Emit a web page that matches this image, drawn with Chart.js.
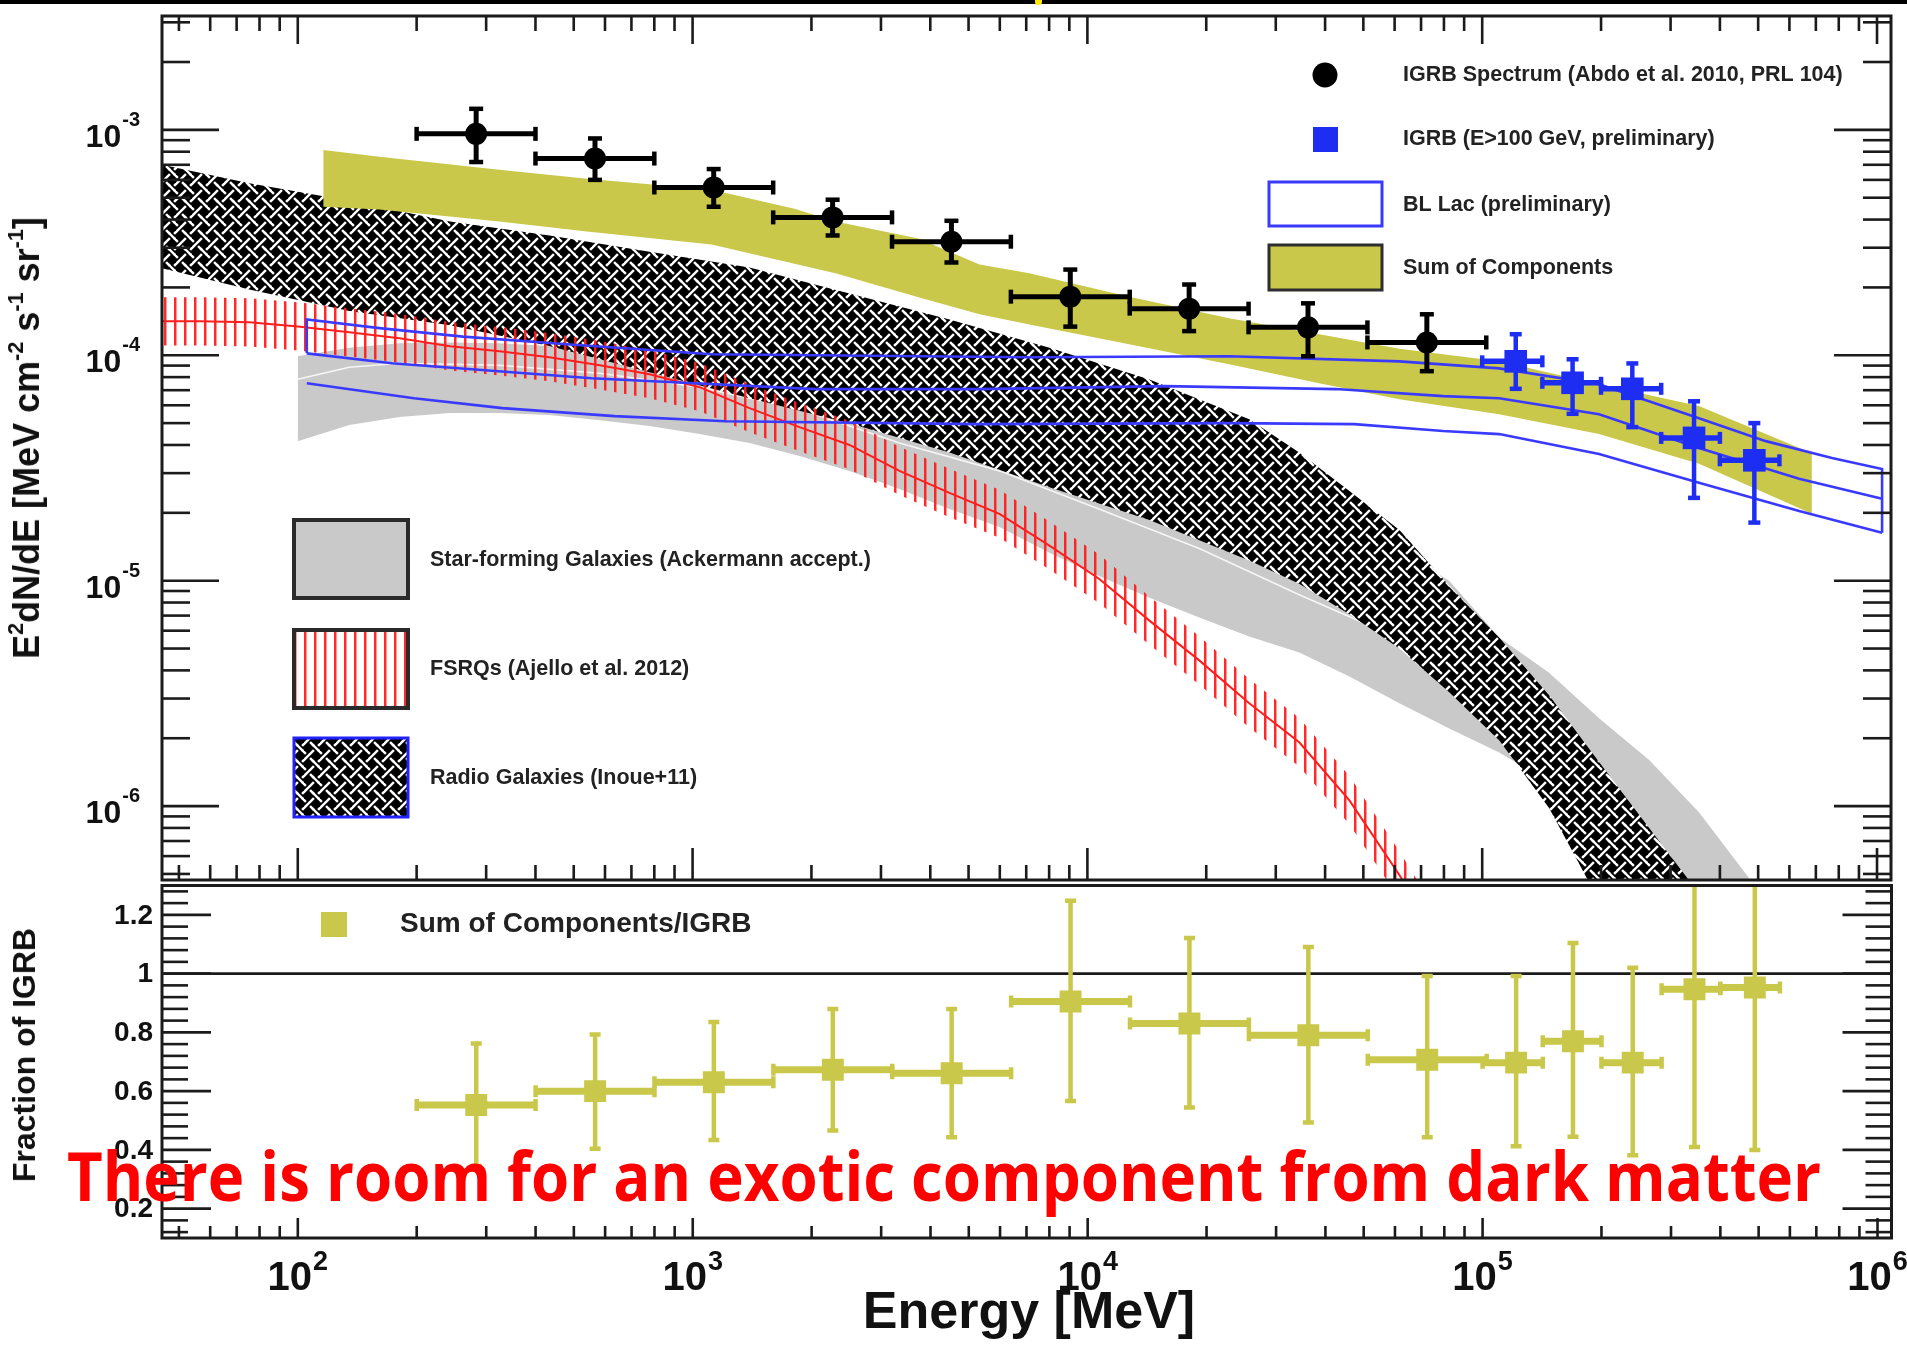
<!DOCTYPE html>
<html>
<head>
<meta charset="utf-8">
<title>IGRB spectrum and source-class contributions</title>
<script src="https://cdn.jsdelivr.net/npm/chart.js@4.4.1/dist/chart.umd.min.js"></script>
<style>
  html, body { margin:0; padding:0; background:#fff; }
  body { position:relative; width:1907px; height:1348px; overflow:hidden; font-family:"Liberation Sans", Arial, Helvetica, sans-serif; }
  canvas { position:absolute; left:0; }
  #spectrum { top:0; }
  #fraction { top:870px; }
  .axis-title { position:absolute; font-weight:bold; color:#111; white-space:nowrap; line-height:1; }
  .axis-title sup { font-size:0.6em; vertical-align:0.75em; line-height:0; }
  #ytitle { left:27px; top:438px; font-size:36px; transform:translate(-50%,-50%) rotate(-90deg); }
  #ftitle { left:24px; top:1055px; font-size:32px; transform:translate(-50%,-50%) rotate(-90deg); }
  #xtitle { left:1029px; top:1284px; font-size:52px; transform:translateX(-50%); }
  #note { position:absolute; left:67px; top:1141px; font-family:"Open Sans", "Noto Sans", sans-serif; font-weight:bold; font-size:68px; line-height:1; color:#ff0000; white-space:nowrap; transform-origin:0 0; }
  #topbar { position:absolute; left:0; top:0; width:1907px; height:4px; background:#000; }
  #marker { position:absolute; left:1035px; top:0; width:7px; height:5px; background:#ffe800; border-radius:0 0 3px 3px; }
</style>
</head>
<body>
<div id="topbar"></div>
<div id="marker"></div>
<canvas id="spectrum" width="1907" height="900"></canvas>
<canvas id="fraction" width="1907" height="478"></canvas>
<div id="ytitle" class="axis-title">E<sup>2</sup>dN/dE [MeV cm<sup>-2</sup> s<sup>-1</sup> sr<sup>-1</sup>]</div>
<div id="ftitle" class="axis-title">Fraction of IGRB</div>
<div id="xtitle" class="axis-title">Energy [MeV]</div>
<div id="note">There is room for an exotic component from dark matter</div>

<script>
// ---------- axis ranges ----------
const energyRange = [45.3, 1.085e6];          // MeV
const fluxRange = [4.7e-7, 3.2e-3];           // MeV cm^-2 s^-1 sr^-1
const fractionRange = [0.1, 1.3];

// ---------- IGRB spectrum (Abdo et al. 2010) ----------
const igrbEdges = [200, 400, 800, 1600, 3200, 6400, 12800, 25600, 51200, 102400];
const igrbE   = [283, 566, 1131, 2263, 4525, 9051, 18102, 36204, 72408];
const igrbF   = [9.6e-4, 7.46e-4, 5.55e-4, 4.09e-4, 3.19e-4, 1.82e-4, 1.61e-4, 1.33e-4, 1.14e-4];
const igrbFLo = [7.2e-4, 6.0e-4, 4.56e-4, 3.4e-4, 2.58e-4, 1.34e-4, 1.28e-4, 9.9e-5, 8.5e-5];
const igrbFHi = [1.24e-3, 9.16e-4, 6.7e-4, 4.9e-4, 3.95e-4, 2.4e-4, 2.06e-4, 1.7e-4, 1.52e-4];

// ---------- IGRB above 100 GeV (preliminary) ----------
const hiEdges = [100000, 142000, 200000, 284000, 400000, 566000];
const hiE   = [121600, 169400, 240000, 344000, 489000];
const hiF   = [9.4e-5, 7.55e-5, 7.1e-5, 4.3e-5, 3.42e-5];
const hiFLo = [7.1e-5, 5.5e-5, 4.8e-5, 2.33e-5, 1.81e-5];
const hiFHi = [1.24e-4, 9.6e-5, 9.2e-5, 6.25e-5, 5.0e-5];

// ---------- Star-forming galaxies band ----------
const sfE  = [100, 135, 181, 243, 324, 434, 582, 778, 1042, 1394, 1866, 2497, 3342, 4474, 5988, 8015, 10700, 14360, 19200, 25700, 34400, 46100, 61700, 82500, 110400, 147700, 197700, 264800, 354000, 474000];
const sfHi = [9.9e-5, 1.08e-4, 1.13e-4, 1.14e-4, 1.13e-4, 1.10e-4, 1.05e-4, 1.0e-4, 9.4e-5, 8.67e-5, 7.91e-5, 7.08e-5, 6.26e-5, 5.54e-5, 4.9e-5, 4.34e-5, 3.76e-5, 3.3e-5, 2.83e-5, 2.43e-5, 2.04e-5, 1.7e-5, 1.36e-5, 1.0e-5, 5.6e-6, 3.9e-6, 2.45e-6, 1.6e-6, 9.4e-7, 4.8e-7];
const sfLo = [4.16e-5, 4.9e-5, 5.32e-5, 5.54e-5, 5.54e-5, 5.43e-5, 5.15e-5, 4.85e-5, 4.47e-5, 4.08e-5, 3.57e-5, 3.07e-5, 2.55e-5, 2.08e-5, 1.73e-5, 1.33e-5, 1.05e-5, 8.4e-6, 6.86e-6, 5.65e-6, 4.8e-6, 3.76e-6, 2.86e-6, 2.21e-6, 1.73e-6, 1.28e-6, 7.8e-7, 3.84e-7, 2.08e-7, 1.39e-7];
const sfMidE = [100, 135, 181, 324, 582, 1042, 1866, 3342, 5988, 10700, 19200, 34400, 61700, 82500];
const sfMid  = [7.83e-5, 8.85e-5, 9.22e-5, 9.03e-5, 8.32e-5, 7.22e-5, 5.77e-5, 4.08e-5, 3.07e-5, 2.08e-5, 1.39e-5, 8.67e-6, 5.54e-6, 4.34e-6];

// ---------- Radio galaxies band (Inoue+11) ----------
const rgE  = [45.3, 75.4, 135, 243, 434, 778, 1394, 2497, 4474, 8015, 14360, 25700, 34400, 46100, 61700, 82500, 110400, 147700, 197700, 264800, 354000];
const rgHi = [7.0e-4, 5.8e-4, 4.85e-4, 3.92e-4, 3.4e-4, 2.88e-4, 2.45e-4, 1.88e-4, 1.44e-4, 1.08e-4, 7.8e-5, 5.2e-5, 3.7e-5, 2.5e-5, 1.68e-5, 9.5e-6, 5.6e-6, 3.1e-6, 1.57e-6, 8.0e-7, 4.1e-7];
const rgLo = [2.43e-4, 1.96e-4, 1.57e-4, 1.36e-4, 1.10e-4, 8.4e-5, 6.45e-5, 5.0e-5, 3.7e-5, 2.6e-5, 1.86e-5, 1.23e-5, 9.7e-6, 7.1e-6, 5.0e-6, 3.2e-6, 1.96e-6, 9.8e-7, 3.8e-7, 1.5e-7, 6e-8];

// ---------- FSRQs band (Ajello et al. 2012) ----------
const fsrqE   = [45.3, 56.5, 75.4, 100, 135, 181, 243, 324, 434, 582, 778, 1042, 1394, 1866, 2497, 3342, 4474, 5988, 8015, 10700, 14360, 19200, 25700, 34400, 46100, 61700, 68500, 82500];
const fsrqMid = [1.414e-4, 1.414e-4, 1.40e-4, 1.343e-4, 1.264e-4, 1.19e-4, 1.096e-4, 1.042e-4, 9.8e-5, 9.03e-5, 8.24e-5, 7.22e-5, 5.83e-5, 4.80e-5, 4.0e-5, 3.07e-5, 2.45e-5, 1.98e-5, 1.43e-5, 1.02e-5, 6.65e-6, 4.43e-6, 2.86e-6, 1.92e-6, 1.06e-6, 4.95e-7, 3.65e-7, 2.3e-7];
const fsrqHi  = [1.81e-4, 1.81e-4, 1.79e-4, 1.72e-4, 1.618e-4, 1.523e-4, 1.403e-4, 1.334e-4, 1.254e-4, 1.156e-4, 1.055e-4, 9.24e-5, 7.46e-5, 6.14e-5, 5.12e-5, 3.93e-5, 3.14e-5, 2.53e-5, 1.83e-5, 1.31e-5, 8.5e-6, 5.67e-6, 3.66e-6, 2.46e-6, 1.36e-6, 6.3e-7, 4.67e-7, 2.94e-7];
const fsrqLo  = [1.105e-4, 1.105e-4, 1.094e-4, 1.049e-4, 9.88e-5, 9.3e-5, 8.56e-5, 8.14e-5, 7.66e-5, 7.05e-5, 6.44e-5, 5.64e-5, 4.55e-5, 3.75e-5, 3.125e-5, 2.4e-5, 1.91e-5, 1.55e-5, 1.12e-5, 7.97e-6, 5.2e-6, 3.46e-6, 2.23e-6, 1.5e-6, 8.3e-7, 3.87e-7, 2.85e-7, 1.8e-7];

// ---------- Sum of components band ----------
const sumE  = [116, 161, 324, 540, 1117, 1811, 2301, 3733, 5330, 7130, 12760, 22860, 38640, 61660, 110400, 197700, 354000, 684000];
const sumHi = [8.15e-4, 7.6e-4, 6.65e-4, 6.07e-4, 5.43e-4, 4.47e-4, 3.92e-4, 3.3e-4, 2.53e-4, 2.31e-4, 1.82e-4, 1.46e-4, 1.24e-4, 1.07e-4, 9.4e-5, 7.44e-5, 5.95e-5, 3.68e-5];
const sumLo = [4.56e-4, 4.43e-4, 3.92e-4, 3.54e-4, 3.1e-4, 2.55e-4, 2.31e-4, 1.81e-4, 1.52e-4, 1.37e-4, 1.12e-4, 9.12e-5, 7.52e-5, 6.38e-5, 5.48e-5, 4.47e-5, 3.3e-5, 1.98e-5];

// ---------- BL Lac band (preliminary): upper, central and lower curves ----------
const blUpE  = [105.4, 161, 262, 480, 1117, 7130, 22860, 61660, 110400, 197700, 354000, 523000, 769000, 1.03e6];
const blUp   = [1.44e-4, 1.32e-4, 1.21e-4, 1.12e-4, 1.01e-4, 9.8e-5, 9.9e-5, 9.4e-5, 8.75e-5, 7.44e-5, 5.26e-5, 4.16e-5, 3.5e-5, 3.13e-5];
const blMidE = [105.4, 173, 555, 2046, 5330, 15740, 42660, 79600, 110400, 197700, 354000, 635000, 1.03e6];
const blMid  = [1.02e-4, 9.22e-5, 7.91e-5, 7.08e-5, 7.08e-5, 7.3e-5, 7.08e-5, 6.59e-5, 6.45e-5, 5.48e-5, 3.88e-5, 2.83e-5, 2.31e-5];
const blLowE = [105.4, 197, 330, 635, 1212, 5330, 22860, 47400, 79600, 110400, 197700, 354000, 635000, 1.03e6];
const blLow  = [7.52e-5, 6.45e-5, 5.83e-5, 5.37e-5, 5.1e-5, 4.95e-5, 5.0e-5, 4.95e-5, 4.61e-5, 4.47e-5, 3.65e-5, 2.72e-5, 2.04e-5, 1.63e-5];

// ---------- Sum of components / IGRB ----------
const ratioE   = igrbE.concat(hiE);
const ratioXLo = igrbEdges.slice(0, -1).concat(hiEdges.slice(0, -1));
const ratioXHi = igrbEdges.slice(1).concat(hiEdges.slice(1));
const ratioVal = [0.553, 0.60, 0.63, 0.673, 0.661, 0.905, 0.830, 0.790, 0.707, 0.697, 0.770, 0.697, 0.947, 0.953];
const ratioLo  = [0.345, 0.404, 0.434, 0.466, 0.443, 0.566, 0.544, 0.493, 0.443, 0.412, 0.445, 0.382, 0.41, 0.40];
const ratioHi  = [0.762, 0.793, 0.835, 0.88, 0.88, 1.248, 1.121, 1.091, 0.992, 0.992, 1.104, 1.02, 1.6, 1.6];

// ---------- legend text ----------
const legendTopRight = ['IGRB Spectrum (Abdo et al. 2010, PRL 104)', 'IGRB (E>100 GeV, preliminary)', 'BL Lac (preliminary)', 'Sum of Components'];
const legendLowerLeft = ['Star-forming Galaxies (Ackermann accept.)', 'FSRQs (Ajello et al. 2012)', 'Radio Galaxies (Inoue+11)'];
const legendRatio = 'Sum of Components/IGRB';

// ---------- style ----------
const GRAY = '#c9c9c9';
const OLIVE = '#c9c84a';
const RED = '#ff1e1e';
const BLUE_LINE = '#3a3aff';
const BLUE_PT = '#1d2ef2';
const INK = '#1b1b1b';
const FONT = '"Liberation Sans", Arial, Helvetica, sans-serif';

const specCanvas = document.getElementById('spectrum');
const specCtx = specCanvas.getContext('2d');
const fracCanvas = document.getElementById('fraction');
const fracCtx = fracCanvas.getContext('2d');

// basket-weave fill: white strands over black, alternately crossing over and under
function makeWeave(ctx) {
  const s = 16, c = document.createElement('canvas');
  c.width = s; c.height = s;
  const t = c.getContext('2d');
  const line = (x0, y0, x1, y1, w, col) => { t.strokeStyle = col; t.lineWidth = w; t.beginPath(); t.moveTo(x0, y0); t.lineTo(x1, y1); t.stroke(); };
  t.fillStyle = '#000'; t.fillRect(0, 0, s, s);
  for (const k of [-s, 0, s]) line(k - 2, -2, k + s + 2, s + 2, 2.4, '#fff');          // "\" strands
  line(7, 1, 1, 7, 6, '#000');                                                         // gap under the "/" strand
  for (const c0 of [8, 24]) line(c0 + 2, -2, c0 - s - 2, s + 2, 2.4, '#fff');          // "/" strands
  line(10, 10, 14, 14, 6, '#000');                                                     // gap under the "\" strand
  line(8.5, 8.5, 15.5, 15.5, 2.4, '#fff');
  return ctx.createPattern(c, 'repeat');
}
function makeStripes(ctx) {
  const c = document.createElement('canvas');
  c.width = 10; c.height = 4;
  const t = c.getContext('2d');
  t.fillStyle = 'rgba(255,30,30,0.95)'; t.fillRect(4, 0, 2, 4);
  t.fillStyle = 'rgba(255,30,30,0.45)'; t.fillRect(6, 0, 1, 4);
  return ctx.createPattern(c, 'repeat');
}
const WEAVE = makeWeave(specCtx);
const STRIPES = makeStripes(specCtx);

const xy = (xs, ys) => xs.map((x, i) => ({ x, y: ys[i] }));
function curve(xs, ys, more) {
  return Object.assign({ data: xy(xs, ys), borderWidth: 0, borderColor: 'rgba(0,0,0,0)', pointRadius: 0, fill: false, tension: 0 }, more);
}
function seg(ctx, x0, y0, x1, y1) { ctx.beginPath(); ctx.moveTo(x0, y0); ctx.lineTo(x1, y1); ctx.stroke(); }
function logTicks(min, max) {
  const out = [];
  for (let e = Math.floor(Math.log10(min)); e <= Math.ceil(Math.log10(max)); e++) {
    for (let m = 1; m <= 9; m++) {
      const v = m * Math.pow(10, e);
      if (v >= min * 0.9999 && v <= max * 1.0001) out.push({ v, major: m === 1, exp: e });
    }
  }
  return out;
}
function drawPower(ctx, base, exp, x, baseline, align, bSize, eSize, rise) {
  ctx.font = `bold ${bSize}px ${FONT}`;
  const bw = ctx.measureText(base).width;
  ctx.font = `bold ${eSize}px ${FONT}`;
  const ew = ctx.measureText(exp).width;
  const total = bw + ew + 1;
  const left = align === 'right' ? x - total : x - total / 2;
  ctx.textAlign = 'left'; ctx.textBaseline = 'alphabetic';
  ctx.font = `bold ${bSize}px ${FONT}`; ctx.fillText(base, left, baseline);
  ctx.font = `bold ${eSize}px ${FONT}`; ctx.fillText(exp, left + bw + 1, baseline - rise);
}

// Error bars drawn just before each point dataset
const errorBars = {
  id: 'errorBars',
  beforeDatasetDraw(chart, args) {
    const ds = chart.data.datasets[args.index];
    const eb = ds.errorBars;
    if (!eb) return;
    const { ctx, chartArea: a, scales: { x, y } } = chart;
    ctx.save();
    ctx.beginPath(); ctx.rect(a.left, a.top, a.right - a.left, a.bottom - a.top); ctx.clip();
    ctx.strokeStyle = eb.color; ctx.lineCap = 'butt';
    ds.data.forEach((p, i) => {
      const px = x.getPixelForValue(p.x), py = y.getPixelForValue(p.y);
      const x0 = x.getPixelForValue(eb.xLo[i]), x1 = x.getPixelForValue(eb.xHi[i]);
      const y0 = y.getPixelForValue(eb.yLo[i]), y1 = y.getPixelForValue(eb.yHi[i]);
      ctx.lineWidth = eb.hWidth; seg(ctx, x0, py, x1, py);
      ctx.lineWidth = eb.vWidth; seg(ctx, px, y0, px, y1);
      ctx.lineWidth = eb.capWidth;
      seg(ctx, x0, py - eb.hCap, x0, py + eb.hCap);
      seg(ctx, x1, py - eb.hCap, x1, py + eb.hCap);
      seg(ctx, px - eb.vCap, y0, px + eb.vCap, y0);
      seg(ctx, px - eb.vCap, y1, px + eb.vCap, y1);
    });
    ctx.restore();
  }
};

// ---------- spectrum panel ----------
const n = blUpE.length - 1;
const blOutline = [{ x: blUpE[0], y: blMid[0] }].concat(xy(blUpE, blUp), [{ x: blUpE[n], y: blLow[blLow.length - 1] }]);

const specSets = [
  curve(sfE, sfHi, { order: 40 }),
  curve(sfE, sfLo, { order: 39, fill: '-1', backgroundColor: GRAY }),
  curve(sfMidE, sfMid, { order: 38, borderWidth: 1.6, borderColor: '#f6f6f6' }),
  curve(rgE, rgHi, { order: 37 }),
  curve(rgE, rgLo, { order: 36, fill: '-1', backgroundColor: WEAVE }),
  curve(fsrqE, fsrqHi, { order: 35 }),
  curve(fsrqE, fsrqLo, { order: 34, fill: '-1', backgroundColor: STRIPES }),
  curve(fsrqE, fsrqMid, { order: 33, borderWidth: 2, borderColor: RED }),
  curve(sumE, sumHi, { order: 32 }),
  curve(sumE, sumLo, { order: 31, fill: '-1', backgroundColor: OLIVE }),
  { data: blOutline, order: 30, borderWidth: 2.6, borderColor: BLUE_LINE, pointRadius: 0, fill: false, tension: 0 },
  curve(blMidE, blMid, { order: 29, borderWidth: 2.6, borderColor: BLUE_LINE }),
  curve(blLowE, blLow, { order: 28, borderWidth: 2.6, borderColor: BLUE_LINE }),
  {
    data: xy(igrbE, igrbF), order: 20, showLine: false, pointRadius: 11, pointStyle: 'circle',
    pointBackgroundColor: '#000', pointBorderWidth: 0,
    errorBars: { xLo: igrbEdges.slice(0, -1), xHi: igrbEdges.slice(1), yLo: igrbFLo, yHi: igrbFHi, color: '#000', hWidth: 5, vWidth: 5, capWidth: 4.5, hCap: 7, vCap: 7 }
  },
  {
    data: xy(hiE, hiF), order: 19, showLine: false, pointRadius: 16, pointStyle: 'rect',
    pointBackgroundColor: BLUE_PT, pointBorderWidth: 0,
    errorBars: { xLo: hiEdges.slice(0, -1), xHi: hiEdges.slice(1), yLo: hiFLo, yHi: hiFHi, color: BLUE_PT, hWidth: 5.5, vWidth: 4.5, capWidth: 4.5, hCap: 6, vCap: 6 }
  }
];

const specAxes = {
  id: 'specAxes',
  afterDatasetsDraw(chart) {
    const ctx = chart.ctx;
    ctx.save();
    // upper-right legend
    ctx.fillStyle = '#000';
    ctx.beginPath(); ctx.arc(1325, 75, 12.5, 0, Math.PI * 2); ctx.fill();
    ctx.fillStyle = BLUE_PT; ctx.fillRect(1313, 127, 25, 25);
    ctx.fillStyle = '#fff'; ctx.fillRect(1269, 182, 113, 44);
    ctx.strokeStyle = BLUE_LINE; ctx.lineWidth = 3; ctx.strokeRect(1269, 182, 113, 44);
    ctx.fillStyle = OLIVE; ctx.fillRect(1269, 245, 113, 45);
    ctx.strokeStyle = '#2e2e2e'; ctx.lineWidth = 3; ctx.strokeRect(1269, 245, 113, 45);
    // lower-left legend
    ctx.fillStyle = GRAY; ctx.fillRect(294, 520, 114, 78);
    ctx.strokeStyle = '#2a2a2a'; ctx.lineWidth = 4; ctx.strokeRect(294, 520, 114, 78);
    ctx.fillStyle = '#fff'; ctx.fillRect(294, 630, 114, 78);
    ctx.fillStyle = STRIPES; ctx.fillRect(294, 630, 114, 78);
    ctx.strokeStyle = '#2a2a2a'; ctx.lineWidth = 4; ctx.strokeRect(294, 630, 114, 78);
    ctx.fillStyle = WEAVE; ctx.fillRect(294, 738, 114, 79);
    ctx.strokeStyle = '#2222ff'; ctx.lineWidth = 3; ctx.strokeRect(294, 738, 114, 79);

    ctx.fillStyle = '#222'; ctx.textAlign = 'left'; ctx.textBaseline = 'middle';
    ctx.font = `bold 21.5px ${FONT}`;
    [75, 139, 205, 268].forEach((yy, i) => ctx.fillText(legendTopRight[i], 1403, yy));
    [560, 669, 778].forEach((yy, i) => ctx.fillText(legendLowerLeft[i], 430, yy));
    ctx.restore();
  },
  afterDraw(chart) {
    const { ctx, chartArea: a, scales: { x, y } } = chart;
    ctx.save();
    ctx.strokeStyle = INK; ctx.lineWidth = 3;
    ctx.strokeRect(a.left, a.top, a.right - a.left, a.bottom - a.top);
    ctx.lineWidth = 2.6;
    logTicks(x.min, x.max).forEach(t => {
      const p = x.getPixelForValue(t.v);
      seg(ctx, p, a.top, p, a.top + (t.major ? 28 : 15));
      seg(ctx, p, a.bottom, p, a.bottom - (t.major ? 32 : 15));
    });
    logTicks(y.min, y.max).forEach(t => {
      const p = y.getPixelForValue(t.v);
      seg(ctx, a.left, p, a.left + (t.major ? 57 : 28), p);
      seg(ctx, a.right, p, a.right - (t.major ? 57 : 28), p);
    });
    ctx.fillStyle = '#111';
    logTicks(y.min, y.max).filter(t => t.major).forEach(t => {
      const p = y.getPixelForValue(t.v);
      drawPower(ctx, '10', String(t.exp), 140, p + 17, 'right', 32, 20, 21);
    });
    ctx.restore();
  }
};

new Chart(specCtx, {
  type: 'line',
  data: { datasets: specSets },
  options: {
    responsive: false, animation: false, devicePixelRatio: 1, events: [],
    layout: { padding: { left: 162, top: 13, right: 15, bottom: 20 } },
    plugins: { legend: { display: false }, tooltip: { enabled: false } },
    scales: {
      x: { type: 'logarithmic', min: energyRange[0], max: energyRange[1], bounds: 'data', display: false },
      y: { type: 'logarithmic', min: fluxRange[0], max: fluxRange[1], bounds: 'data', display: false }
    }
  },
  plugins: [errorBars, specAxes]
});

// ---------- fraction panel ----------
const fracAxes = {
  id: 'fracAxes',
  beforeDatasetsDraw(chart) {
    const { ctx, chartArea: a, scales: { y } } = chart;
    const p = y.getPixelForValue(1);
    ctx.save(); ctx.strokeStyle = INK; ctx.lineWidth = 2.6; seg(ctx, a.left, p, a.right, p); ctx.restore();
  },
  afterDatasetsDraw(chart) {
    const ctx = chart.ctx;
    ctx.save();
    ctx.fillStyle = OLIVE; ctx.fillRect(321, 42, 26, 25);
    ctx.fillStyle = '#222'; ctx.font = `bold 28px ${FONT}`; ctx.textAlign = 'left'; ctx.textBaseline = 'middle';
    ctx.fillText(legendRatio, 400, 54);
    ctx.restore();
  },
  afterDraw(chart) {
    const { ctx, chartArea: a, scales: { x, y } } = chart;
    ctx.save();
    ctx.strokeStyle = INK; ctx.lineWidth = 3;
    ctx.strokeRect(a.left, a.top, a.right - a.left, a.bottom - a.top);
    ctx.lineWidth = 2.6;
    logTicks(x.min, x.max).forEach(t => {
      const p = x.getPixelForValue(t.v);
      seg(ctx, p, a.bottom, p, a.bottom - (t.major ? 20 : 12));
    });
    for (let i = 3; i <= 32; i++) {
      const p = y.getPixelForValue(i * 0.04);
      const len = i % 5 === 0 ? 49 : 26;
      seg(ctx, a.left, p, a.left + len, p);
      seg(ctx, a.right, p, a.right - len, p);
    }
    ctx.fillStyle = '#111';
    ctx.font = `bold 28px ${FONT}`; ctx.textAlign = 'right'; ctx.textBaseline = 'middle';
    [0.2, 0.4, 0.6, 0.8, 1, 1.2].forEach(v => {
      ctx.fillText(v === 1 ? '1' : v.toFixed(1), 153, y.getPixelForValue(v) + 1);
    });
    logTicks(x.min, x.max).filter(t => t.major).forEach(t => {
      drawPower(ctx, '10', String(t.exp), x.getPixelForValue(t.v), 420, 'center', 40, 27, 20);
    });
    ctx.restore();
  }
};

new Chart(fracCtx, {
  type: 'line',
  data: {
    datasets: [{
      data: xy(ratioE, ratioVal), showLine: false, pointRadius: 15.5, pointStyle: 'rect',
      pointBackgroundColor: OLIVE, pointBorderWidth: 0,
      errorBars: { xLo: ratioXLo, xHi: ratioXHi, yLo: ratioLo, yHi: ratioHi, color: OLIVE, hWidth: 7, vWidth: 4.5, capWidth: 4.5, hCap: 6, vCap: 5.5 }
    }]
  },
  options: {
    responsive: false, animation: false, devicePixelRatio: 1, events: [],
    layout: { padding: { left: 162, top: 11, right: 15, bottom: 110 } },
    plugins: { legend: { display: false }, tooltip: { enabled: false } },
    scales: {
      x: { type: 'logarithmic', min: energyRange[0], max: energyRange[1], bounds: 'data', display: false },
      y: { type: 'linear', min: fractionRange[0], max: fractionRange[1], bounds: 'data', display: false }
    }
  },
  plugins: [errorBars, fracAxes]
});

// annotation sized to span the plot width
const note = document.getElementById('note');
const noteW = note.getBoundingClientRect().width;
note.style.transform = `scaleX(${(1754 / noteW).toFixed(4)})`;
</script>
</body>
</html>
